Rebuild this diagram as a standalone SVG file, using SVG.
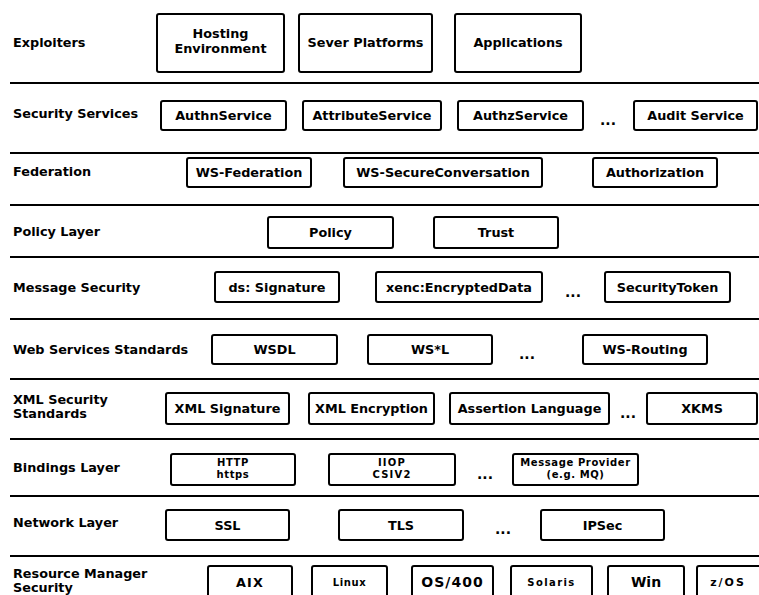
<svg xmlns="http://www.w3.org/2000/svg" width="759" height="595" viewBox="0 0 759 595">
<style>
.bg{fill:#fff}
.sep{stroke:#000;stroke-width:2}
.box{fill:#fff;stroke:#000;stroke-width:2}
text{font-family:"DejaVu Sans","Liberation Sans",sans-serif;font-weight:bold;fill:#000}
.lbl{font-size:12.8px}
.t{font-size:12.8px;text-anchor:middle}
.s{font-size:10px;letter-spacing:0.6px;text-anchor:middle}
.w{letter-spacing:1.2px}
.d{font-size:14px;text-anchor:middle}
</style>
<rect class="bg" x="0" y="0" width="759" height="595"/>
<g id="connectors">
<line class="sep" x1="10" y1="83" x2="759" y2="83"/>
<line class="sep" x1="10" y1="153" x2="759" y2="153"/>
<line class="sep" x1="10" y1="205" x2="759" y2="205"/>
<line class="sep" x1="10" y1="257" x2="759" y2="257"/>
<line class="sep" x1="10" y1="319" x2="759" y2="319"/>
<line class="sep" x1="10" y1="379" x2="759" y2="379"/>
<line class="sep" x1="10" y1="439" x2="759" y2="439"/>
<line class="sep" x1="10" y1="496" x2="759" y2="496"/>
<line class="sep" x1="10" y1="556" x2="759" y2="556"/>
</g>
<g id="labels">
<text class="lbl" x="13" y="47">Exploiters</text>
<text class="lbl" x="13" y="118">Security Services</text>
<text class="lbl" x="13" y="176">Federation</text>
<text class="lbl" x="13" y="236">Policy Layer</text>
<text class="lbl" x="13" y="292">Message Security</text>
<text class="lbl" x="13" y="354">Web Services Standards</text>
<text class="lbl" x="13" y="404">XML Security</text>
<text class="lbl" x="13" y="418">Standards</text>
<text class="lbl" x="13" y="472">Bindings Layer</text>
<text class="lbl" x="13" y="527">Network Layer</text>
<text class="lbl" x="13" y="578">Resource Manager</text>
<text class="lbl" x="13" y="592">Security</text>
</g>
<g id="n-hosting"><rect class="box" x="157" y="14" width="127" height="58" rx="2"/><text class="t" x="220.5" y="38">Hosting</text><text class="t" x="220.5" y="53">Environment</text></g>
<g id="n-sever"><rect class="box" x="299" y="14" width="133" height="58" rx="2"/><text class="t" x="365.5" y="47">Sever Platforms</text></g>
<g id="n-apps"><rect class="box" x="455" y="14" width="126" height="58" rx="2"/><text class="t" x="518" y="47">Applications</text></g>

<g id="n-authn"><rect class="box" x="161" y="101" width="125" height="29" rx="2"/><text class="t" x="223.5" y="120">AuthnService</text></g>
<g id="n-attr"><rect class="box" x="303" y="101" width="138" height="29" rx="2"/><text class="t" x="372" y="120">AttributeService</text></g>
<g id="n-authz"><rect class="box" x="458" y="101" width="125" height="29" rx="2"/><text class="t" x="520.5" y="120">AuthzService</text></g>
<text class="d" x="608" y="125">...</text>
<g id="n-audit"><rect class="box" x="634" y="101" width="123" height="29" rx="2"/><text class="t" x="695.5" y="120">Audit Service</text></g>

<g id="n-wsfed"><rect class="box" x="187" y="158" width="124" height="29" rx="2"/><text class="t" x="249" y="177">WS-Federation</text></g>
<g id="n-wssc"><rect class="box" x="344" y="158" width="198" height="29" rx="2"/><text class="t" x="443" y="177">WS-SecureConversation</text></g>
<g id="n-authzn"><rect class="box" x="593" y="158" width="124" height="29" rx="2"/><text class="t" x="655" y="177">Authorization</text></g>

<g id="n-policy"><rect class="box" x="268" y="217" width="125" height="31" rx="2"/><text class="t" x="330.5" y="237">Policy</text></g>
<g id="n-trust"><rect class="box" x="434" y="217" width="124" height="31" rx="2"/><text class="t" x="496" y="237">Trust</text></g>

<g id="n-dssig"><rect class="box" x="215" y="272" width="124" height="30" rx="2"/><text class="t" x="277" y="292">ds: Signature</text></g>
<g id="n-xenc"><rect class="box" x="376" y="272" width="166" height="30" rx="2"/><text class="t" x="459" y="292">xenc:EncryptedData</text></g>
<text class="d" x="573" y="297">...</text>
<g id="n-sectok"><rect class="box" x="605" y="272" width="125" height="30" rx="2"/><text class="t" x="667.5" y="292">SecurityToken</text></g>

<g id="n-wsdl"><rect class="box" x="212" y="335" width="125" height="29" rx="2"/><text class="t" x="274.5" y="354">WSDL</text></g>
<g id="n-wsl"><rect class="box" x="368" y="335" width="124" height="29" rx="2"/><text class="t" x="430" y="354">WS*L</text></g>
<text class="d" x="527" y="359">...</text>
<g id="n-wsrouting"><rect class="box" x="583" y="335" width="124" height="29" rx="2"/><text class="t" x="645" y="354">WS-Routing</text></g>

<g id="n-xmlsig"><rect class="box" x="166" y="393" width="123" height="31" rx="2"/><text class="t" x="227.5" y="413">XML Signature</text></g>
<g id="n-xmlenc"><rect class="box" x="309" y="393" width="125" height="31" rx="2"/><text class="t" x="371.5" y="413">XML Encryption</text></g>
<g id="n-assert"><rect class="box" x="450" y="393" width="159" height="31" rx="2"/><text class="t" x="529.5" y="413">Assertion Language</text></g>
<text class="d" x="628" y="418">...</text>
<g id="n-xkms"><rect class="box" x="647" y="393" width="110" height="31" rx="2"/><text class="t" x="702" y="413">XKMS</text></g>

<g id="n-http"><rect class="box" x="171" y="454" width="124" height="31" rx="2"/><text class="s" x="233" y="466">HTTP</text><text class="s" x="233" y="478">https</text></g>
<g id="n-iiop"><rect class="box" x="329" y="454" width="126" height="31" rx="2"/><text class="s w" x="392" y="466">IIOP</text><text class="s w" x="392" y="478">CSIV2</text></g>
<text class="d" x="485" y="479">...</text>
<g id="n-mq"><rect class="box" x="513" y="454" width="125" height="31" rx="2"/><text class="s" x="575.5" y="466">Message Provider</text><text class="s" x="575.5" y="478">(e.g. MQ)</text></g>

<g id="n-ssl"><rect class="box" x="166" y="510" width="123" height="30" rx="2"/><text class="t" x="227.5" y="530">SSL</text></g>
<g id="n-tls"><rect class="box" x="339" y="510" width="124" height="30" rx="2"/><text class="t" x="401" y="530">TLS</text></g>
<text class="d" x="503" y="534">...</text>
<g id="n-ipsec"><rect class="box" x="541" y="510" width="123" height="30" rx="2"/><text class="t" x="602.5" y="530">IPSec</text></g>

<g id="n-aix"><rect class="box" x="208" y="566" width="84" height="40" rx="2"/><text class="t w" x="250" y="587">AIX</text></g>
<g id="n-linux"><rect class="box" x="312" y="566" width="75" height="40" rx="2"/><text class="s" x="349.5" y="586">Linux</text></g>
<g id="n-os400"><rect class="box" x="412" y="566" width="81" height="40" rx="2"/><text class="t" x="452.5" y="587" style="font-size:14px;letter-spacing:1px">OS/400</text></g>
<g id="n-solaris"><rect class="box" x="511" y="566" width="81" height="40" rx="2"/><text class="s" x="551.5" y="586" style="letter-spacing:1.4px">Solaris</text></g>
<g id="n-win"><rect class="box" x="608" y="566" width="76" height="40" rx="2"/><text class="t" x="646" y="587" style="font-size:14px">Win</text></g>
<g id="n-zos"><rect class="box" x="697" y="566" width="70" height="40" rx="2"/><text class="s" x="728" y="586" style="font-size:11px;letter-spacing:2px">z/OS</text></g>
</svg>
